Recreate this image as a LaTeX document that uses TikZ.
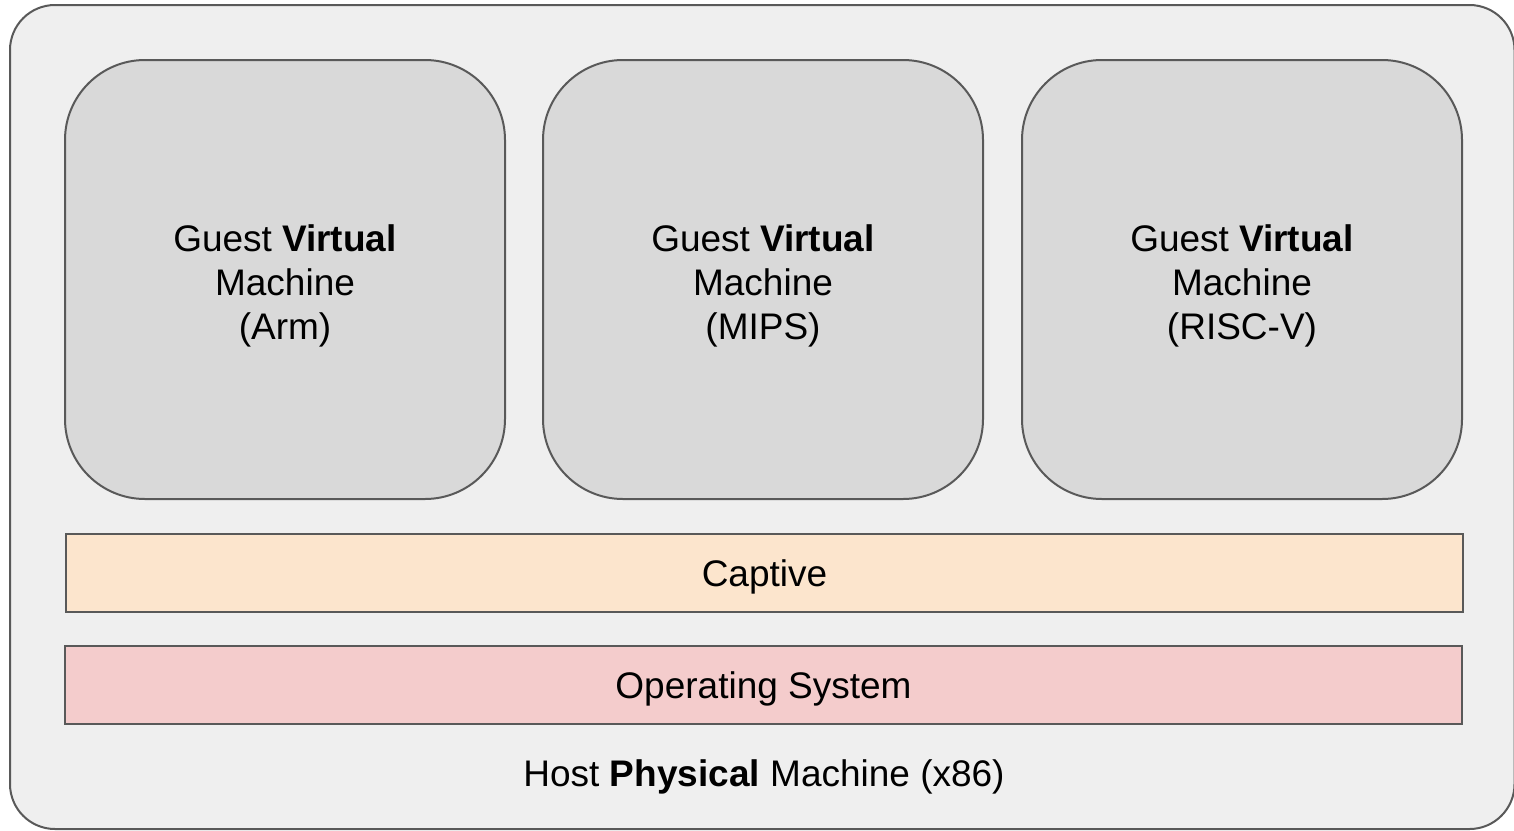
\documentclass[tikz,border=0pt]{standalone}
\usepackage{fontspec}
\setmainfont{Liberation Sans}
\definecolor{outerfill}{HTML}{EFEFEF}
\definecolor{guestfill}{HTML}{D9D9D9}
\definecolor{captfill}{HTML}{FCE5CD}
\definecolor{osfill}{HTML}{F4CCCC}
\definecolor{strokec}{HTML}{595959}
\begin{document}
\begin{tikzpicture}[x=1pt,y=-1pt,
  txt/.style={font=\fontsize{37}{44}\selectfont, align=center, text=black},
  guest/.style={draw=strokec, line width=2pt, fill=guestfill, rounded corners=80pt},
  band/.style={draw=strokec, line width=2.2pt, minimum height=78pt, inner sep=0pt}]
\useasboundingbox (0,0) rectangle (1514,830);
\draw[draw=strokec, line width=2pt, fill=outerfill, rounded corners=45pt] (10,5) rectangle (1514.5,829);
\draw[guest] (65,60) rectangle (505,499);
\draw[guest] (543,60) rectangle (983,499);
\draw[guest] (1022,60) rectangle (1462,499);
\node[txt] (arm) at (285,286) {Guest \textbf{Virtual}\\Machine\\(Arm)};
\node[txt] (mips) at (763,286) {Guest \textbf{Virtual}\\Machine\\(MIPS)};
\node[txt] (riscv) at (1242,286) {Guest \textbf{Virtual}\\Machine\\(RISC-V)};
\node[band, fill=captfill, minimum width=1397pt] (captive) at (764.5,573) {};
\node[txt] (captivetxt) at (captive.center) [yshift=-4pt] {Captive};
\node[band, fill=osfill, minimum width=1397pt] (os) at (763.5,685) {};
\node[txt] (ostxt) at (os.center) [yshift=-4pt] {Operating System};
\node[txt] (host) at (764,777) {Host \textbf{Physical} Machine (x86)};
\end{tikzpicture}
\end{document}
